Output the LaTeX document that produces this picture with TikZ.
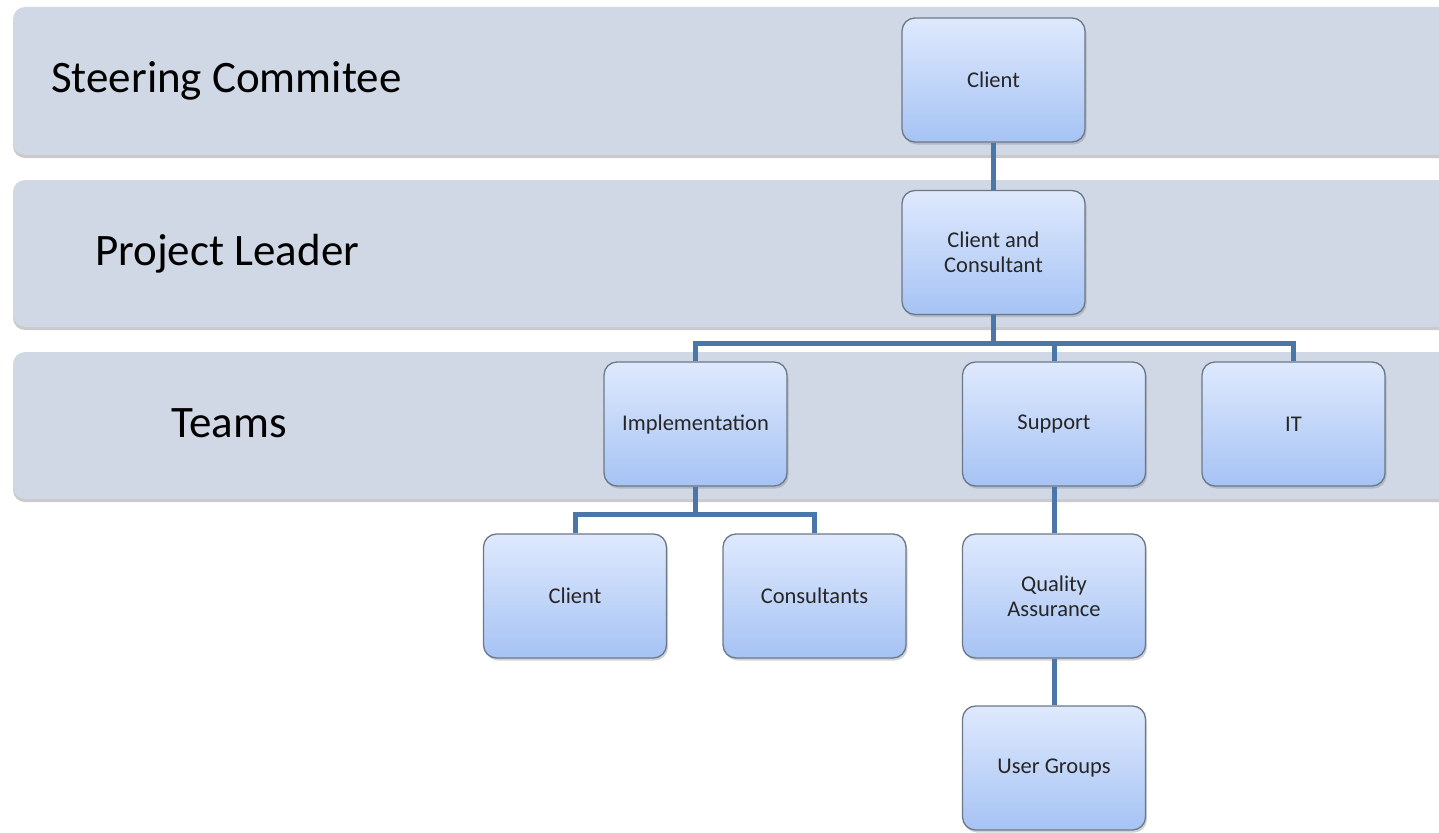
\documentclass[tikz,border=0pt]{standalone}
\usepackage{fontspec}
\setmainfont{Carlito}
\usetikzlibrary{shadows}
\definecolor{bandfill}{HTML}{D0D7E5}
\definecolor{boxtop}{HTML}{DFE9FD}
\definecolor{boxbot}{HTML}{A6C3F4}
\definecolor{boxline}{HTML}{6B7889}
\definecolor{connc}{HTML}{4A76AA}
\tikzset{
  band/.style={fill=bandfill, rounded corners=12pt, drop shadow={shadow xshift=0pt, shadow yshift=-3pt, opacity=0.35, fill=black!60}},
  bandlabel/.style={anchor=base west, font=\fontsize{45}{50}\selectfont, text=black, inner sep=0pt},
  orgbox/.style={rectangle, rounded corners=13pt, draw=boxline, line width=1.3pt,
    top color=boxtop, bottom color=boxbot, minimum width=183pt, minimum height=124pt,
    align=center, font=\fontsize{22.5}{25}\selectfont, text=black!85,
    drop shadow={shadow xshift=1.5pt, shadow yshift=-2.5pt, opacity=0.35}},
  conn/.style={draw=connc, line width=5pt}
}
\begin{document}
\begin{tikzpicture}[x=1pt,y=-1pt]
\useasboundingbox (0,0) rectangle (1439,832);
\clip (0,0) rectangle (1439,832);
% bands
\path[band] (13,7) rectangle (1470,155);
\path[band] (13,180) rectangle (1470,327);
\path[band] (13,352) rectangle (1470,499);
\node[bandlabel] (lsc) at (51,93) {Steering Commitee};
\node[bandlabel] (lpl) at (95,265) {Project Leader};
\node[bandlabel] (lte) at (171,437) {Teams};
% boxes
\node[orgbox] (c1) at (993.5,80) {Client};
\node[orgbox] (cac) at (993.5,252.5) {Client and\\Consultant};
\node[orgbox] (impl) at (695.5,424) {Implementation};
\node[orgbox] (supp) at (1054,424) {Support};
\node[orgbox] (it) at (1293.5,424) {IT};
\node[orgbox] (cl2) at (575,596) {Client};
\node[orgbox] (cons) at (814.5,596) {Consultants};
\node[orgbox] (qa) at (1054,596) {Quality\\Assurance};
\node[orgbox] (ug) at (1054,768) {User Groups};
% buses
\coordinate (b1) at (0,343);
\coordinate (b2) at (0,514);
% connectors
\draw[conn] (c1.south) -- (cac.north);
\draw[conn] (cac.south) -- (cac.south |- b1);
\draw[conn] (impl.north) |- (it.north |- b1) -- (it.north);
\draw[conn] (supp.north) -- (supp.north |- b1);
\draw[conn] (impl.south) -- (impl.south |- b2);
\draw[conn] (cl2.north) |- (cons.north |- b2) -- (cons.north);
\draw[conn] (supp.south) -- (qa.north);
\draw[conn] (qa.south) -- (ug.north);
\end{tikzpicture}
\end{document}
